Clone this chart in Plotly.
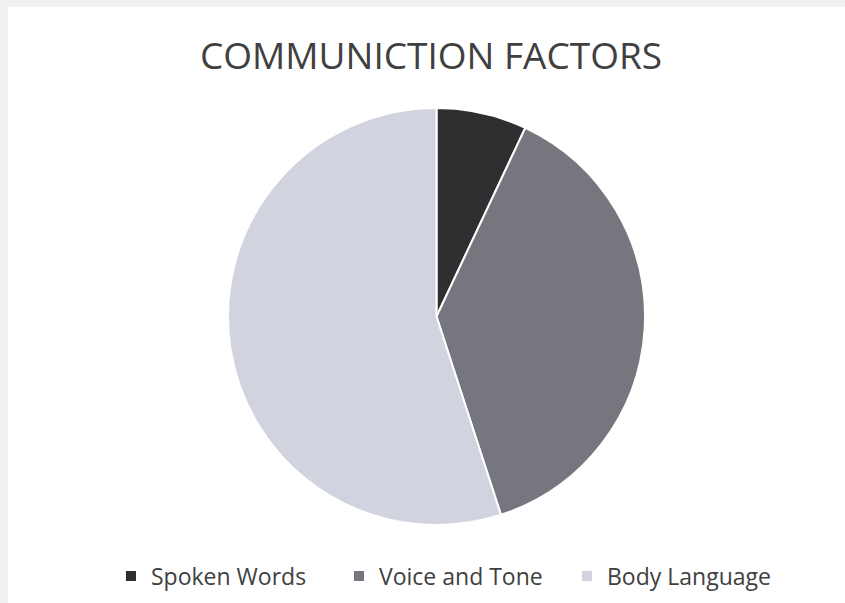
import plotly.graph_objects as go

labels = ["Spoken Words", "Voice and Tone", "Body Language"]
values = [7, 38, 55]
colors = ["#2f2f31", "#76777e", "#d1d3df"]

W, H = 845, 603

fig = go.Figure(go.Pie(
    labels=labels, values=values, sort=False, direction="clockwise", rotation=0,
    marker=dict(colors=colors, line=dict(color="white", width=2)),
    textinfo="none", hoverinfo="label+percent",
    domain=dict(x=[228 / W, 645 / W], y=[1 - 525 / H, 1 - 108 / H]),
))

fig.update_layout(
    width=W, height=H,
    margin=dict(l=0, r=0, t=0, b=0),
    paper_bgcolor="#f0f0f0",
    shapes=[dict(type="rect", xref="paper", yref="paper", x0=8 / W, x1=1, y0=0, y1=1 - 7 / H,
                 fillcolor="white", line=dict(width=0), layer="below")],
    title=dict(text="COMMUNICTION FACTORS", x=431 / W, xanchor="center", y=1 - 56 / H, yanchor="middle",
               font=dict(family="Open Sans", size=37, color="#404040")),
    legend=dict(orientation="h", x=453 / W, xanchor="center", y=1 - 576 / H, yanchor="middle",
                font=dict(family="Open Sans", size=23, color="#404040"),
                itemwidth=30, entrywidth=183, entrywidthmode="pixels",
                bgcolor="rgba(0,0,0,0)"),
)

fig.write_html("out.html", config={"displayModeBar": False},
               post_script="document.body.style.margin='0';document.body.style.overflow='hidden';")
